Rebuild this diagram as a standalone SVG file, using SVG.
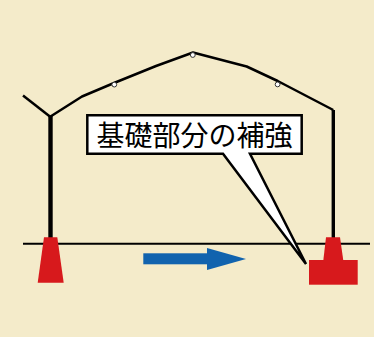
<svg xmlns="http://www.w3.org/2000/svg" width="374" height="337" viewBox="0 0 374 337">
  <style>
    .frame { fill: none; stroke: #000; stroke-width: 2.5; stroke-linejoin: round; stroke-linecap: butt; }
    .post { stroke: #000; fill: none; }
    .pin { fill: #fff; stroke: #333; stroke-width: 1; }
    .footing { fill: #d7191c; }
    .label { font-family: "Noto Sans CJK JP", "Noto Sans", sans-serif; font-size: 28px; fill: #000; }
  </style>
  <!-- background -->
  <rect width="374" height="337" fill="#f4ebca"/>

  <!-- ground line -->
  <g id="ground">
    <line x1="23" y1="243.7" x2="370" y2="243.7" stroke="#000" stroke-width="2"/>
  </g>

  <!-- greenhouse frame: roof arch, side posts and left brace -->
  <g id="frame">
    <line class="frame" x1="23" y1="95.5" x2="50.5" y2="117"/>
    <polyline class="frame" points="50.5,116.5 82,96.5 114,83 156,66 193,52.5 246.7,66.5 277.7,81 333.3,110"/>
    <line class="post" x1="50.5" y1="116" x2="50.5" y2="238" stroke-width="4.4"/>
    <line class="post" x1="333.3" y1="110" x2="333.3" y2="238" stroke-width="3.4"/>
    <circle class="pin" cx="114.3" cy="84.6" r="2.4"/>
    <circle class="pin" cx="192.8" cy="55" r="2.4"/>
    <circle class="pin" cx="277.6" cy="84.4" r="2.4"/>
  </g>

  <!-- left footing (original) -->
  <g id="footing-left">
    <polygon class="footing" points="44,237.3 57.3,237.3 63.7,282.7 37.7,282.7"/>
  </g>

  <!-- right footing (reinforced base) -->
  <g id="footing-right">
    <polygon class="footing" points="326,237.3 340,237.3 343.3,260.5 323.3,260.5"/>
    <rect class="footing" x="309" y="260" width="48.7" height="24.7"/>
  </g>

  <!-- direction arrow -->
  <g id="arrow">
    <rect x="143.3" y="253.3" width="64" height="11" fill="#1163ae"/>
    <polygon points="207,248 246,259 207,270" fill="#1163ae"/>
  </g>

  <!-- callout label -->
  <g id="callout">
    <path d="M87.3,115.3 H301.7 V153.7 H250 L306,264 L223,153.7 H87.3 Z" fill="#fff" stroke="#000" stroke-width="2.5" stroke-linejoin="miter"/>
    <text class="label" x="194.5" y="146" text-anchor="middle">基礎部分の補強</text>
  </g>
</svg>
